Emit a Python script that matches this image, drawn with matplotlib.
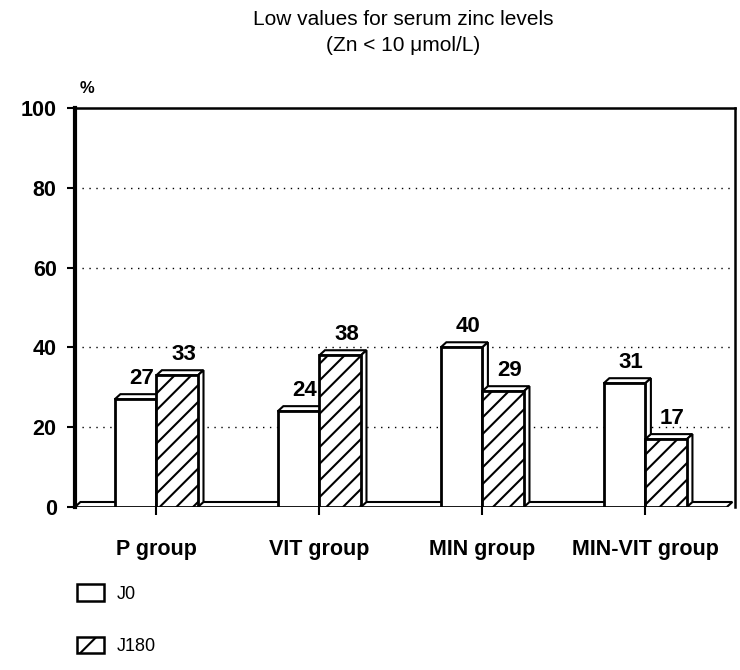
import matplotlib
matplotlib.use("Agg")
import matplotlib.pyplot as plt
from matplotlib.patches import Patch
import numpy as np

plt.rcParams['font.family'] = ['Liberation Sans', 'DejaVu Sans']
plt.rcParams['hatch.linewidth'] = 1.5

# data
groups = ["P group", "VIT group", "MIN group", "MIN-VIT group"]
j0 = [27, 24, 40, 31]
j180 = [33, 38, 29, 17]
series_names = ["J0", "J180"]
yticks = [0, 20, 40, 60, 80, 100]

fig = plt.figure(figsize=(7.4, 6.7), dpi=100)
ax = fig.add_axes([0.101, 0.243, 0.892, 0.596])

x = np.arange(len(groups)) + 0.5
w = 0.255
dx, dy = 0.035, 1.3   # fake 3D depth

# floor
ax.fill([0, 4, 4 + dx, dx], [0, 0, dy, dy], facecolor="white", edgecolor="black", lw=1.5, zorder=1)

def bar3d(xc, h, hatch):
    x0, x1 = xc - w / 2, xc + w / 2
    ax.fill([x0, x0 + dx, x1 + dx, x1], [h, h + dy, h + dy, h],
            facecolor="white", edgecolor="black", lw=1.5, zorder=2)
    ax.fill([x1, x1 + dx, x1 + dx, x1], [h, h + dy, dy, 0],
            facecolor="white", edgecolor="black", lw=1.5, zorder=2)
    ax.bar(xc, h, width=w, facecolor="white", edgecolor="black", lw=2,
           hatch=hatch, zorder=3)

for i in range(len(groups)):
    bar3d(x[i] - w / 2, j0[i], None)
    bar3d(x[i] + w / 2, j180[i], "//")
    ax.text(x[i] - w / 2 + 0.04, j0[i] + 2.5, str(j0[i]), ha="center", va="bottom",
            fontsize=16, fontweight="bold")
    ax.text(x[i] + w / 2 + 0.04, j180[i] + 2.5, str(j180[i]), ha="center", va="bottom",
            fontsize=16, fontweight="bold")

for g in yticks[1:-1]:
    ax.axhline(g, color="black", ls=(0, (1, 4)), lw=1.0, zorder=0)

ax.set_xlim(0, 4.05)
ax.set_ylim(0, 100)
ax.set_xticks(x)
ax.set_xticklabels(groups, fontsize=15.5, fontweight="bold")
ax.set_yticks(yticks)
ax.set_yticklabels([str(t) for t in yticks], fontsize=15.5, fontweight="bold")
ax.tick_params(axis="both", direction="out", length=6, width=1.5, pad=7)
ax.tick_params(axis="x", pad=17)
for s in ["left", "top", "right"]:
    ax.spines[s].set_linewidth(1.8)
ax.spines["left"].set_linewidth(3)
ax.spines["bottom"].set_visible(False)

ax.text(0.03, 103, "%", fontsize=12, fontweight="bold", ha="left", va="bottom")
fig.text(0.545, 0.985, "Low values for serum zinc levels\n(Zn < 10 \u03bcmol/L)",
         ha="center", va="top", fontsize=15, linespacing=1.45)

handles = [Patch(facecolor="white", edgecolor="black", lw=1.8, label=series_names[0]),
           Patch(facecolor="white", edgecolor="black", lw=1.8, hatch="/", label=series_names[1])]
fig.legend(handles=handles, loc="upper left", bbox_to_anchor=(0.082, 0.152), frameon=False,
           fontsize=13, handlelength=1.5, handleheight=1.0, labelspacing=1.9, handletextpad=0.7)

fig.savefig("out.png", dpi=100)
